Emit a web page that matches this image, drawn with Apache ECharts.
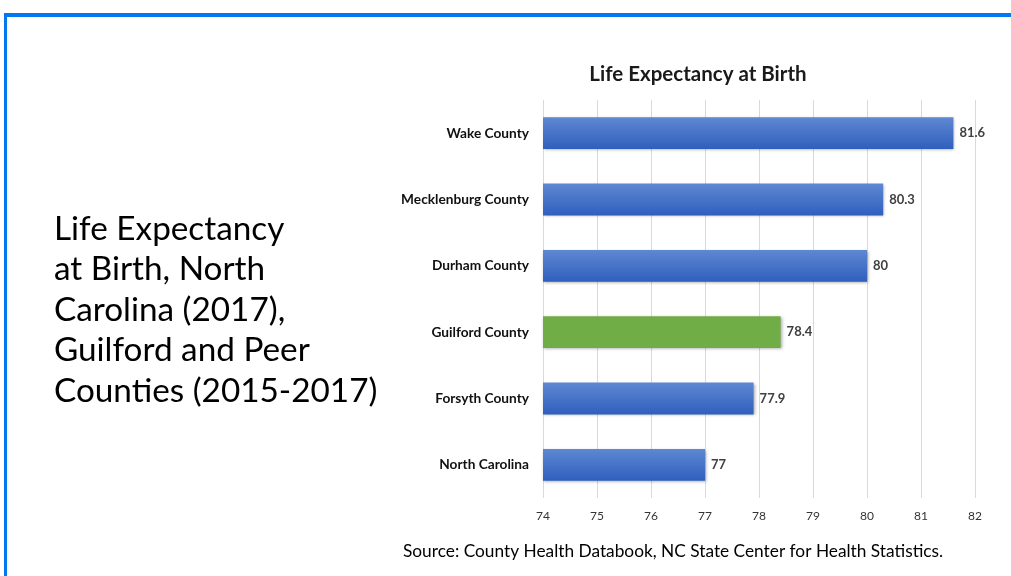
<!DOCTYPE html>
<html><head><meta charset="utf-8">
<script src="https://cdn.jsdelivr.net/npm/echarts@6/dist/echarts.min.js"></script>
<style>html,body{margin:0;padding:0;background:#fff}#c{width:1011px;height:576px}</style>
</head><body><div id="c"></div>
<script>
const categories = ["Wake County","Mecklenburg County","Durham County","Guilford County","Forsyth County","North Carolina"];
const values = [81.6, 80.3, 80, 78.4, 77.9, 77];
const highlight = "Guilford County";
const chartTitle = "Life Expectancy at Birth";
const sideTitle = ["Life Expectancy","at Birth, North","Carolina (2017),","Guilford and Peer","Counties (2015-2017)"];
const sourceText = "Source: County Health Databook, NC State Center for Health Statistics.";

const blueGrad = new echarts.graphic.LinearGradient(0,0,0,1,[{offset:0,color:'#5f88d2'},{offset:1,color:'#2f5fbe'}]);
const greenColor = '#70ad47';
const F = 'Lato';

const chart = echarts.init(document.getElementById('c'));
chart.setOption({
  animation:false,
  title:{text:chartTitle,left:693,top:59,textAlign:'center',
    textStyle:{fontFamily:F,fontWeight:'bold',fontSize:20.5,color:'#1a1a1a'}},
  grid:{left:543,right:36,top:100,bottom:78,containLabel:false},
  xAxis:{type:'value',min:74,max:82,interval:1,
    axisLine:{show:false},axisTick:{show:false},
    axisLabel:{fontFamily:F,fontSize:12,color:'#333',margin:12},
    splitLine:{lineStyle:{color:'#d9d9d9',width:1}}},
  yAxis:{type:'category',data:categories,inverse:true,
    axisLine:{show:false},axisTick:{show:false},
    axisLabel:{fontFamily:F,fontWeight:'bold',fontSize:13.7,color:'#111',margin:14}},
  series:[{type:'bar',data:values.map((v,i)=>({value:v,itemStyle:{color:categories[i]===highlight?greenColor:blueGrad}})),
    barCategoryGap:'52%',
    itemStyle:{shadowColor:'rgba(0,0,0,0.35)',shadowBlur:3,shadowOffsetX:1,shadowOffsetY:1},
    label:{show:true,position:'right',distance:6,fontFamily:F,fontWeight:'bold',fontSize:13,color:'#404040'}}],
  graphic:[
    {type:'rect',shape:{x:4,y:13,width:1007,height:4},style:{fill:'#0078f0'}},
    {type:'rect',shape:{x:4,y:13,width:3,height:563},style:{fill:'#0078f0'}},
    {type:'text',left:54,top:209,style:{text:sideTitle.join('\n'),fontFamily:F,fontSize:33.3,lineHeight:40.5,fill:'#000'}},
    {type:'text',left:403,top:543,style:{text:sourceText,fontFamily:F,fontSize:17.3,fill:'#000'}}
  ]
});
</script></body></html>
